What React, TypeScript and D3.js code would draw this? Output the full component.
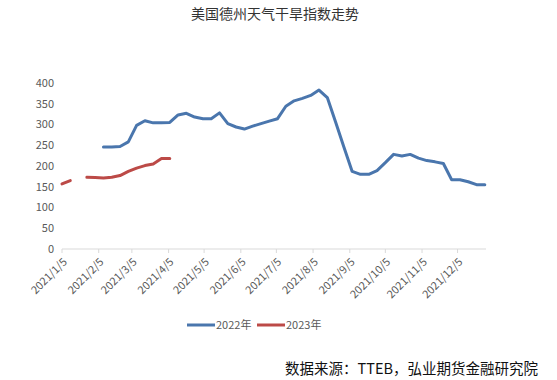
import React from "react";
import * as d3 from "d3";

const W = 557;
const H = 380;

const title = "美国德州天气干旱指数走势";
const source = "数据来源：TTEB，弘业期货金融研究院";
const startDate = "2021/1/5";
const endDate = "2021/12/29";
const tickLabels = [
  "2021/1/5", "2021/2/5", "2021/3/5", "2021/4/5", "2021/5/5", "2021/6/5",
  "2021/7/5", "2021/8/5", "2021/9/5", "2021/10/5", "2021/11/5", "2021/12/5",
];
const yTicks = [0, 50, 100, 150, 200, 250, 300, 350, 400];
const seriesNames = ["2022年", "2023年"];
const seriesColors = ["#4a76ad", "#bc4a47"];

// weekly values (Tuesdays starting 2021/1/5)
const values2022: (number | null)[] = [
  null, null, null, null, null,
  246, 246, 247, 258, 298, 309, 304, 304, 305, 323,
  327, 318, 314, 314, 328, 302, 294, 289, 296, 302,
  308, 314, 344, 357, 363, 370, 383, 365, 306, 246,
  187, 180, 180, 189, 208, 228, 224, 228, 219, 213,
  210, 206, 167, 167, 162, 155, 155,
];
const values2023: (number | null)[] = [
  157, 165, null, 173, 172, 171, 173, 177, 187, 195, 201, 205, 218, 218,
];

const parseDate = (s: string) => {
  const [y, m, d] = s.split("/").map(Number);
  return new Date(y, m - 1, d);
};

export default function App() {
  const x0 = 62;
  const x1 = 486;
  const yBase = 249;
  const yTop = 83;
  const start = parseDate(startDate);
  const x = d3.scaleTime().domain([start, parseDate(endDate)]).range([x0, x1]);
  const y = d3.scaleLinear().domain([0, 400]).range([yBase, yTop]);
  const weekDate = (i: number) => d3.timeDay.offset(start, 7 * i);

  const line = d3
    .line<number | null>()
    .defined((d) => d !== null)
    .x((_, i) => x(weekDate(i)))
    .y((d) => y(d as number));

  const font = "'Noto Sans CJK SC', 'Noto Sans', sans-serif";
  const series = [values2022, values2023];

  return (
    <svg
      width={W}
      height={H}
      style={{ position: "absolute", left: 0, top: 0, background: "#fff" }}
      fontFamily={font}
    >
      <rect width={W} height={H} fill="#fff" />
      <text x={275} y={19} textAnchor="middle" fontSize={14} fill="#333">
        {title}
      </text>
      {yTicks.map((t) => (
        <text
          key={t}
          x={54}
          y={y(t)}
          dy="0.35em"
          textAnchor="end"
          fontSize={11}
          fill="#595959"
        >
          {t}
        </text>
      ))}
      <line x1={x0} x2={x1} y1={yBase} y2={yBase} stroke="#d9d9d9" strokeWidth={1} />
      {tickLabels.map((lab) => {
        const tx = x(parseDate(lab));
        return (
          <g key={lab}>
            <line x1={tx} x2={tx} y1={yBase} y2={yBase + 4} stroke="#d9d9d9" />
            <text
              transform={`translate(${tx + 3},${yBase + 11}) rotate(-45)`}
              textAnchor="end"
              dy="0.35em"
              fontSize={11}
              fill="#595959"
            >
              {lab}
            </text>
          </g>
        );
      })}
      {series.map((vals, k) => (
        <path
          key={k}
          d={line(vals) || ""}
          fill="none"
          stroke={seriesColors[k]}
          strokeWidth={3}
          strokeLinejoin="round"
          strokeLinecap="round"
        />
      ))}
      {seriesNames.map((name, k) => {
        const lx = 187 + k * 70;
        return (
          <g key={name}>
            <line x1={lx} x2={lx + 28} y1={325} y2={325} stroke={seriesColors[k]} strokeWidth={3} />
            <text x={lx + 29} y={325} dy="0.35em" fontSize={11} fill="#595959">
              {name}
            </text>
          </g>
        );
      })}
      <text x={538} y={369} dy="0.35em" textAnchor="end" fontSize={14.5} fill="#111">
        {source}
      </text>
    </svg>
  );
}
